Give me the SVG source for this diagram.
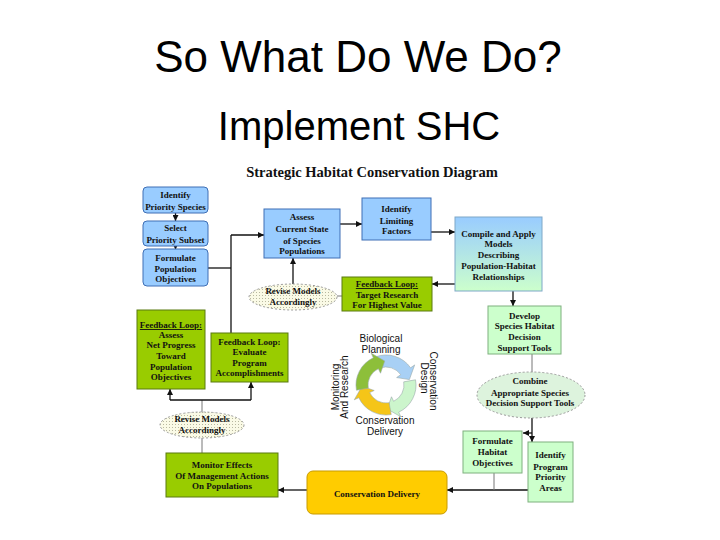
<svg xmlns="http://www.w3.org/2000/svg" width="720" height="540" viewBox="0 0 720 540">
<defs>
<style>
.t{font-family:"Liberation Serif","Times New Roman",serif;font-weight:bold;font-size:9px;fill:#111;text-anchor:middle}
.s{font-family:"Liberation Sans",Arial,sans-serif;font-size:10px;fill:#111;text-anchor:middle}
.blue{fill:#99CCFF;stroke:#3F6FB5;stroke-width:1}
.green{fill:#99CC00;stroke:#5A7A10;stroke-width:1}
.lg{fill:#CCFFCC;stroke:#7FB07F;stroke-width:1}
.ln{fill:none;stroke:#111;stroke-width:1.3}
.gl{fill:none;stroke:#777;stroke-width:1}
.u{text-decoration:underline}
</style>
<pattern id="dots" width="3" height="3" patternUnits="userSpaceOnUse">
<rect width="3" height="3" fill="#FAFAE6"/>
<rect x="1" y="1" width="1" height="1" fill="#B8B8A0"/>
</pattern>
<linearGradient id="cg" x1="0" y1="0" x2="0" y2="1">
<stop offset="0" stop-color="#99CCFF"/>
<stop offset="1" stop-color="#CCFFCC"/>
</linearGradient>
<marker id="ah" viewBox="0 0 6 6" refX="6" refY="3" markerWidth="6" markerHeight="6" markerUnits="userSpaceOnUse" orient="auto">
<path d="M0,0 L6,3 L0,6 Z" fill="#111"/>
</marker>
</defs>
<rect width="720" height="540" fill="#fff"/>

<text x="358" y="72" font-family="Liberation Sans,Arial,sans-serif" font-size="44" text-anchor="middle" fill="#000">So What Do We Do?</text>
<text x="359" y="140" font-family="Liberation Sans,Arial,sans-serif" font-size="40" text-anchor="middle" fill="#000">Implement SHC</text>
<text x="372" y="177" font-family="Liberation Serif,Times New Roman,serif" font-weight="bold" font-size="14.5" text-anchor="middle" fill="#111">Strategic Habitat Conservation Diagram</text>

<g id="connectors">
<line class="ln" x1="175.5" y1="213" x2="175.5" y2="221" marker-end="url(#ah)"/>
<line class="ln" x1="175.5" y1="246" x2="175.5" y2="249.5" marker-end="url(#ah)"/>
<polyline class="ln" points="208,268 231,268"/>
<line class="ln" x1="231" y1="235" x2="231" y2="333"/>
<line class="ln" x1="231" y1="235" x2="264" y2="235" marker-end="url(#ah)"/>
<line class="ln" x1="293" y1="284" x2="293" y2="258" marker-end="url(#ah)"/>
<line class="gl" x1="337" y1="296" x2="342" y2="296"/>
<line class="ln" x1="340" y1="224" x2="362" y2="224" marker-end="url(#ah)"/>
<line class="ln" x1="431" y1="232" x2="455" y2="232" marker-end="url(#ah)"/>
<line class="ln" x1="455" y1="284" x2="432" y2="284" marker-end="url(#ah)"/>
<line class="ln" x1="513" y1="291" x2="513" y2="306" marker-end="url(#ah)"/>
<line class="gl" x1="532" y1="354" x2="532" y2="373"/>
<line class="ln" x1="532" y1="418" x2="532" y2="442" marker-end="url(#ah)"/>
<line class="ln" x1="532" y1="433" x2="523" y2="433" marker-end="url(#ah)"/>
<line class="ln" x1="528" y1="490" x2="447" y2="490" marker-end="url(#ah)"/>
<line class="gl" x1="494" y1="473" x2="494" y2="490"/>
<line class="ln" x1="307" y1="490" x2="278" y2="490" marker-end="url(#ah)"/>
<line class="gl" x1="202" y1="453" x2="202" y2="438"/>
<line class="gl" x1="202" y1="412" x2="202" y2="400"/>
<polyline class="ln" points="170,400 251,400"/>
<line class="ln" x1="170" y1="400" x2="170" y2="389" marker-end="url(#ah)"/>
<line class="ln" x1="251" y1="400" x2="251" y2="382" marker-end="url(#ah)"/>
</g>

<g id="identify-priority-species">
<rect class="blue" x="143" y="187" width="65" height="26" rx="4"/>
<text class="t" x="175.5" y="198">Identify</text>
<text class="t" x="175.5" y="210">Priority Species</text>
</g>
<g id="select-priority-subset">
<rect class="blue" x="143" y="221" width="65" height="25" rx="4"/>
<text class="t" x="175.5" y="231">Select</text>
<text class="t" x="175.5" y="243">Priority Subset</text>
</g>
<g id="formulate-population-objectives">
<rect class="blue" x="143" y="249" width="65" height="37" rx="4"/>
<text class="t" x="175.5" y="261">Formulate</text>
<text class="t" x="175.5" y="272">Population</text>
<text class="t" x="175.5" y="282">Objectives</text>
</g>
<g id="assess-current-state">
<rect class="blue" x="264" y="209" width="76" height="49"/>
<text class="t" x="302" y="220">Assess</text>
<text class="t" x="302" y="232">Current State</text>
<text class="t" x="302" y="244">of Species</text>
<text class="t" x="302" y="254">Populations</text>
</g>
<g id="identify-limiting-factors">
<rect class="blue" x="362" y="198" width="69" height="42"/>
<text class="t" x="396.5" y="212">Identify</text>
<text class="t" x="396.5" y="224">Limiting</text>
<text class="t" x="396.5" y="234">Factors</text>
</g>
<g id="compile-apply-models">
<rect x="455" y="217" width="87" height="74" fill="url(#cg)" stroke="#7FA8C8" stroke-width="1"/>
<text class="t" x="498.5" y="237">Compile and Apply</text>
<text class="t" x="498.5" y="247">Models</text>
<text class="t" x="498.5" y="258">Describing</text>
<text class="t" x="498.5" y="269">Population-Habitat</text>
<text class="t" x="498.5" y="280">Relationships</text>
</g>
<g id="revise-models-top">
<ellipse cx="293" cy="297" rx="44" ry="13" fill="url(#dots)" stroke="#999" stroke-width="1" stroke-dasharray="2,2"/>
<text class="t" x="293" y="294">Revise Models</text>
<text class="t" x="293" y="305">Accordingly</text>
</g>
<g id="feedback-target-research">
<rect class="green" x="342" y="277" width="90" height="34"/>
<text class="t u" x="387" y="287">Feedback Loop:</text>
<text class="t" x="387" y="298">Target Research</text>
<text class="t" x="387" y="308">For Highest Value</text>
</g>
<g id="develop-decision-tools">
<rect class="lg" x="488" y="306" width="73" height="48"/>
<text class="t" x="524.5" y="319">Develop</text>
<text class="t" x="524.5" y="329">Species Habitat</text>
<text class="t" x="524.5" y="340">Decision</text>
<text class="t" x="524.5" y="351">Support Tools</text>
</g>
<g id="combine-tools">
<ellipse cx="531" cy="395" rx="54" ry="23" fill="#DDF3DD" stroke="#999" stroke-width="1" stroke-dasharray="2,2"/>
<text class="t" x="530" y="384" font-weight="normal">Combine</text>
<text class="t" x="530" y="396">Appropriate Species</text>
<text class="t" x="530" y="406">Decision Support Tools</text>
</g>
<g id="formulate-habitat-objectives">
<rect class="lg" x="463" y="431" width="59" height="42"/>
<text class="t" x="492.5" y="444">Formulate</text>
<text class="t" x="492.5" y="455">Habitat</text>
<text class="t" x="492.5" y="466">Objectives</text>
</g>
<g id="identify-program-priority-areas">
<rect class="lg" x="528" y="442" width="45" height="60"/>
<text class="t" x="550.5" y="458">Identify</text>
<text class="t" x="550.5" y="470">Program</text>
<text class="t" x="550.5" y="480">Priority</text>
<text class="t" x="550.5" y="491">Areas</text>
</g>
<g id="conservation-delivery">
<rect x="307" y="471" width="140" height="43" rx="6" fill="#FFCC00" stroke="#C89B00" stroke-width="1"/>
<text class="t" x="377" y="497" font-size="10.5">Conservation Delivery</text>
</g>
<g id="monitor-effects">
<rect class="green" x="166" y="453" width="112" height="44"/>
<text class="t" x="222" y="468">Monitor Effects</text>
<text class="t" x="222" y="479">Of Management Actions</text>
<text class="t" x="222" y="489">On Populations</text>
</g>
<g id="revise-models-bottom">
<ellipse cx="202" cy="425" rx="42" ry="13" fill="url(#dots)" stroke="#999" stroke-width="1" stroke-dasharray="2,2"/>
<text class="t" x="202" y="422">Revise Models</text>
<text class="t" x="202" y="433">Accordingly</text>
</g>
<g id="feedback-assess-progress">
<rect class="green" x="137" y="310" width="68" height="79"/>
<text class="t u" x="171" y="328">Feedback Loop:</text>
<text class="t" x="171" y="338">Assess</text>
<text class="t" x="171" y="348">Net Progress</text>
<text class="t" x="171" y="359">Toward</text>
<text class="t" x="171" y="370">Population</text>
<text class="t" x="171" y="380">Objectives</text>
</g>
<g id="feedback-evaluate-program">
<rect class="green" x="211" y="333" width="77" height="49"/>
<text class="t" x="249.5" y="345">Feedback Loop:</text>
<text class="t" x="249.5" y="355">Evaluate</text>
<text class="t" x="249.5" y="366">Program</text>
<text class="t" x="249.5" y="376">Accomplishments</text>
</g>

<g id="shc-cycle">
<path d="M375.74,356.81 A30,30 0 0 1 410.58,367.79 L414.67,364.93 L409.38,379.60 L396.65,377.54 L400.75,374.68 A18,18 0 0 0 379.84,368.09 Z" fill="#A8D0F5" stroke="#9AA" stroke-width="0.6"/>
<path d="M415.54,379.79 A30,30 0 0 1 398.68,412.19 L400.79,416.72 L387.26,408.97 L391.49,396.78 L393.61,401.31 A18,18 0 0 0 403.73,381.87 Z" fill="#CCF5CC" stroke="#9AA" stroke-width="0.6"/>
<path d="M391.21,414.54 A30,30 0 0 1 358.81,397.68 L354.28,399.79 L362.03,386.26 L374.22,390.49 L369.69,392.61 A18,18 0 0 0 389.12,402.73 Z" fill="#F5C518" stroke="#9AA" stroke-width="0.6"/>
<path d="M356.46,390.21 A30,30 0 0 1 373.32,357.81 L371.21,353.28 L384.74,361.03 L380.51,373.22 L378.39,368.69 A18,18 0 0 0 368.27,388.12 Z" fill="#8DBF3A" stroke="#9AA" stroke-width="0.6"/>
<text class="s" x="381" y="342">Biological</text>
<text class="s" x="381" y="353">Planning</text>
<text class="s" x="385" y="424">Conservation</text>
<text class="s" x="385" y="435">Delivery</text>
<text class="s" transform="translate(339,387) rotate(-90)">Monitoring</text>
<text class="s" transform="translate(348,387) rotate(-90)">And Research</text>
<text class="s" transform="translate(430,381) rotate(90)">Conservation</text>
<text class="s" transform="translate(421,378) rotate(90)">Design</text>
</g>
</svg>
